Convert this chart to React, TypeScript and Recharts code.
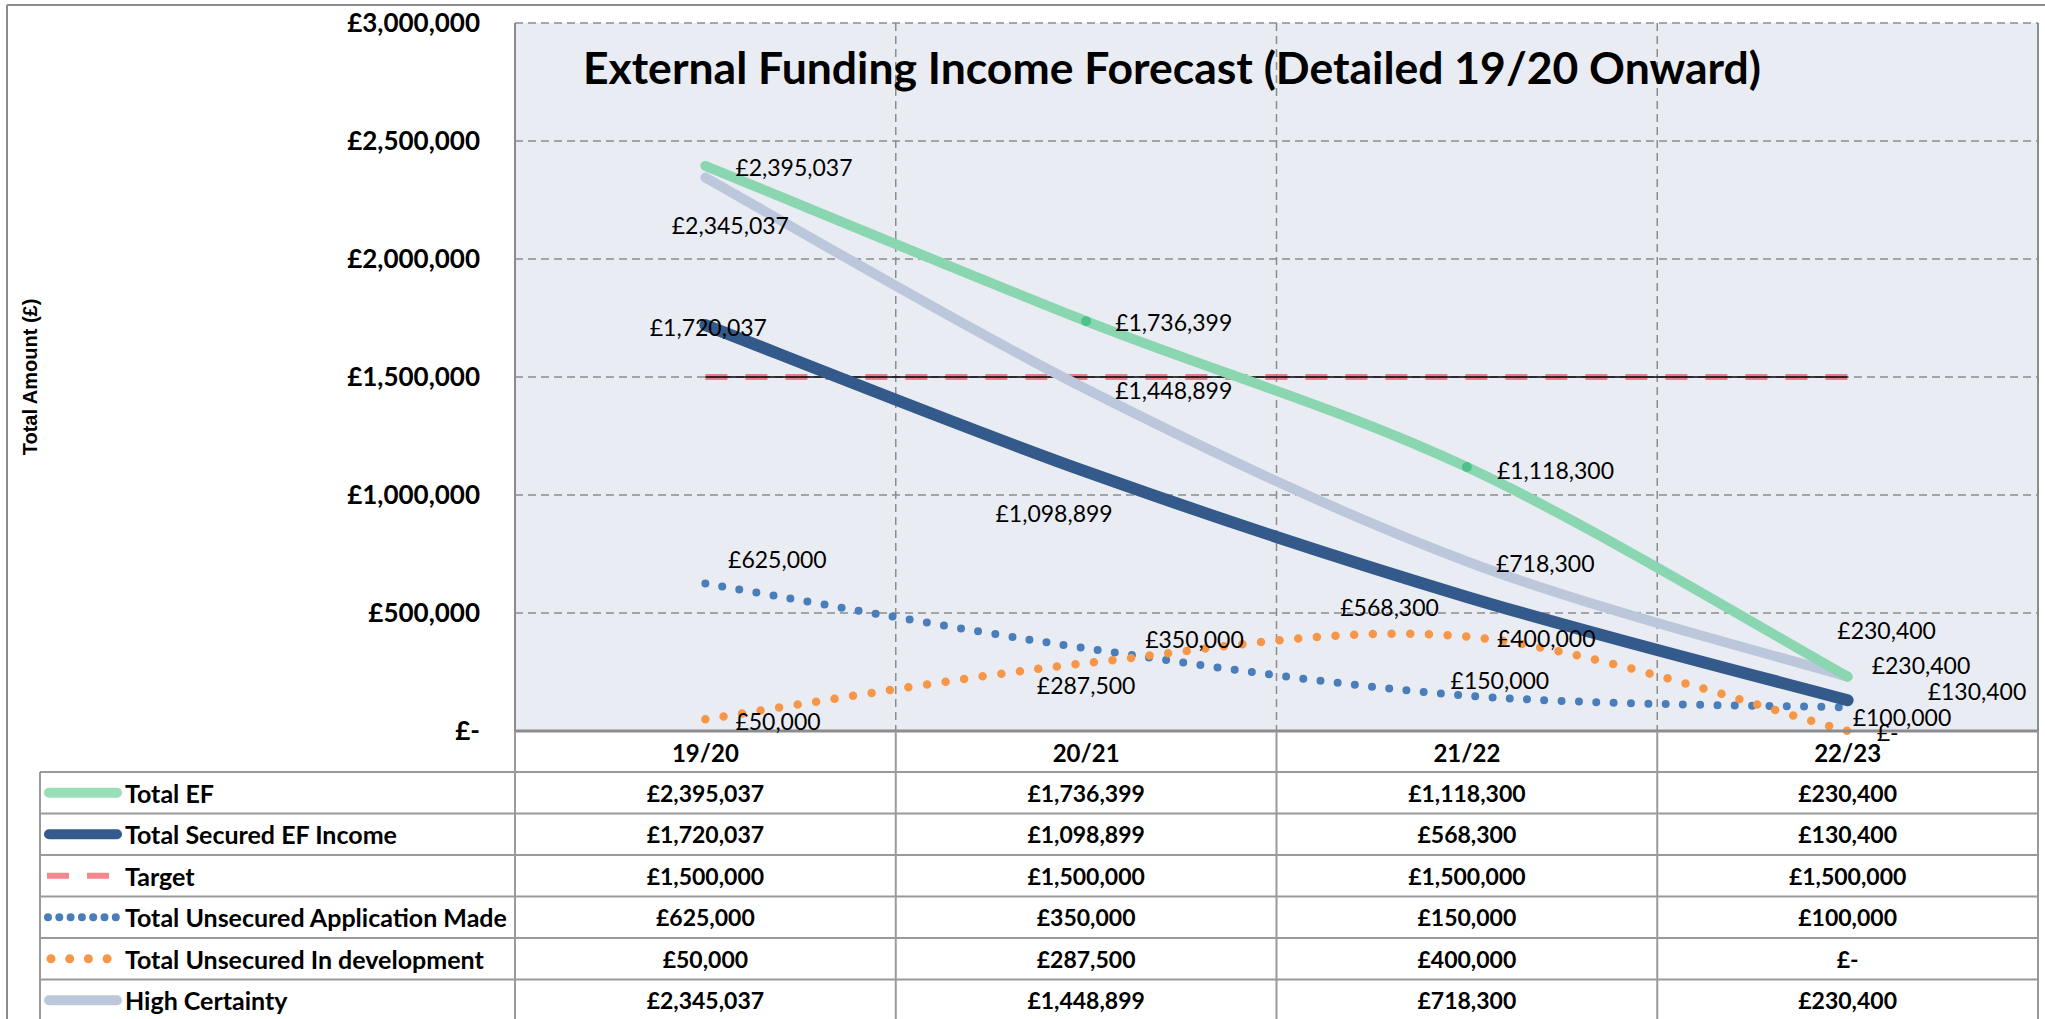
import React from "react"
import { LineChart, Line, XAxis, YAxis, CartesianGrid, LabelList } from "recharts"

// ---- data ----
const categories = ["19/20", "20/21", "21/22", "22/23"]
const totalEF = [2395037, 1736399, 1118300, 230400]
const totalSecured = [1720037, 1098899, 568300, 130400]
const target = [1500000, 1500000, 1500000, 1500000]
const unsecuredApplied = [625000, 350000, 150000, 100000]
const unsecuredDevelopment = [50000, 287500, 400000, 0]
const highCertainty = [2345037, 1448899, 718300, 230400]
const yTicks = [0, 500000, 1000000, 1500000, 2000000, 2500000, 3000000]

const data = categories.map((cat, i) => ({
  cat,
  ef: totalEF[i],
  secured: totalSecured[i],
  target: target[i],
  applied: unsecuredApplied[i],
  dev: unsecuredDevelopment[i],
  high: highCertainty[i],
}))

// ---- layout ----
const W = 2045
const H = 1019
const PLOT_L = 515
const PLOT_R = 2038
const PLOT_T = 23
const PLOT_B = 731
const HEADER_H = 41
const ROW_H = 41.5
const TABLE_L = 40
const BAND = (PLOT_R - PLOT_L) / categories.length
const FONT = "Lato, 'Open Sans', sans-serif"

const fmt = (v: number) => (v === 0 ? "£-" : "£" + v.toLocaleString("en-GB"))

// Excel-style smoothed line (uniform Catmull-Rom as cubic Bezier)
function excelSmooth(context: any) {
  let pts: number[][] = []
  return {
    areaStart() {},
    areaEnd() {},
    lineStart() {
      pts = []
    },
    point(x: number, y: number) {
      pts.push([+x, +y])
    },
    lineEnd() {
      if (!pts.length) return
      context.moveTo(pts[0][0], pts[0][1])
      for (let i = 0; i < pts.length - 1; i++) {
        const p0 = pts[i - 1] || pts[i]
        const p1 = pts[i]
        const p2 = pts[i + 1]
        const p3 = pts[i + 2] || p2
        context.bezierCurveTo(
          p1[0] + (p2[0] - p0[0]) / 6,
          p1[1] + (p2[1] - p0[1]) / 6,
          p2[0] - (p3[0] - p1[0]) / 6,
          p2[1] - (p3[1] - p1[1]) / 6,
          p2[0],
          p2[1]
        )
      }
    },
  }
}

// label placement relative to each point: [dx, dy, anchor]
type Pos = [number, number, "start" | "middle" | "end"]
const labelPos: Record<string, Pos[]> = {
  ef: [[30, 1, "start"], [29, 1, "start"], [30, 3, "start"], [39, -47, "middle"]],
  secured: [[3, 2, "middle"], [-32, 41, "middle"], [-28, 10, "end"], [80, -9, "start"]],
  high: [[25, 47, "middle"], [29, 1, "start"], [29, 2, "start"], [24, -12, "start"]],
  applied: [[72, -25, "middle"], [59, -9, "start"], [33, -16, "middle"], [5, 10, "start"]],
  dev: [[30, 2, "start"], [0, 22, "middle"], [30, 1, "start"], [29, 1, "start"]],
}

const makeLabel = (key: string) => (props: any) => {
  const vb = props.viewBox || {}
  const px = props.x ?? vb.x
  const py = props.y ?? vb.y
  const [dx, dy, anchor] = labelPos[key][props.index] || [0, 0, "middle"]
  return (
    <text
      x={px + dx}
      y={py + dy}
      textAnchor={anchor}
      dominantBaseline="central"
      fontSize={23}
      fontFamily={FONT}
      fill="#000"
    >
      {fmt(props.value)}
    </text>
  )
}

const series = [
  { key: "ef", name: "Total EF", values: totalEF, legend: "#98deb6", kind: "solid" },
  { key: "secured", name: "Total Secured EF Income", values: totalSecured, legend: "#355a8c", kind: "solid" },
  { key: "target", name: "Target", values: target, legend: "#f4878b", kind: "dash" },
  { key: "applied", name: "Total Unsecured Application Made", values: unsecuredApplied, legend: "#4a7ebb", kind: "dotsSmall" },
  { key: "dev", name: "Total Unsecured In development", values: unsecuredDevelopment, legend: "#f79646", kind: "dots" },
  { key: "high", name: "High Certainty", values: highCertainty, legend: "#bdc7dc", kind: "solid" },
]

function LegendKey({ kind, color, y }: { kind: string; color: string; y: number }) {
  if (kind === "solid")
    return <line x1={49} x2={117} y1={y} y2={y} stroke={color} strokeWidth={10} strokeLinecap="round" />
  if (kind === "dash")
    return <line x1={47} x2={110} y1={y} y2={y} stroke={color} strokeWidth={6} strokeDasharray="22 18" />
  if (kind === "dotsSmall")
    return (
      <line x1={48} x2={116} y1={y} y2={y} stroke={color} strokeWidth={8} strokeDasharray="0 11.3" strokeLinecap="round" />
    )
  return <line x1={51} x2={108} y1={y} y2={y} stroke={color} strokeWidth={9} strokeDasharray="0 18.7" strokeLinecap="round" />
}

function Overlay() {
  const tableTop = PLOT_B + HEADER_H
  const colEdges = categories.map((_, i) => PLOT_L + i * BAND).concat(PLOT_R)
  const rowLines = series.map((_, i) => tableTop + i * ROW_H).concat(tableTop + series.length * ROW_H)
  const gray = "#9a9a9a"
  return (
    <svg width={W} height={H} style={{ position: "absolute", left: 0, top: 0, pointerEvents: "none" }}>
      {/* outer border */}
      <line x1={7} x2={7} y1={5} y2={H} stroke="#8c8c8c" strokeWidth={2} />
      <line x1={7} x2={W} y1={5} y2={5} stroke="#8c8c8c" strokeWidth={2} />
      {/* plot right border */}
      <line x1={PLOT_R} x2={PLOT_R} y1={PLOT_T} y2={PLOT_B} stroke="#8c8c8c" strokeWidth={2} />
      {/* title */}
      <text x={1172} y={66} textAnchor="middle" dominantBaseline="central" fontSize={44.5} fontWeight={700} fontFamily={FONT} fill="#000">
        External Funding Income Forecast (Detailed 19/20 Onward)
      </text>
      {/* y axis title */}
      <text
        x={30}
        y={377}
        transform="rotate(-90 30 377)"
        textAnchor="middle"
        dominantBaseline="central"
        fontSize={20}
        fontWeight={700}
        fontFamily="'Liberation Sans', Arial, sans-serif"
        fill="#000"
      >
        Total Amount (£)
      </text>
      {/* table grid */}
      {rowLines.map((y, i) => (
        <line key={"r" + i} x1={TABLE_L} x2={PLOT_R} y1={y} y2={y} stroke={gray} strokeWidth={2} />
      ))}
      <line x1={TABLE_L} x2={TABLE_L} y1={tableTop} y2={H} stroke={gray} strokeWidth={2} />
      {colEdges.map((x, i) => (
        <line key={"c" + i} x1={x} x2={x} y1={PLOT_B} y2={H} stroke={gray} strokeWidth={2} />
      ))}
      {/* rows */}
      {series.map((s, r) => {
        const cy = tableTop + r * ROW_H + ROW_H / 2
        return (
          <g key={s.key}>
            <LegendKey kind={s.kind} color={s.legend} y={cy} />
            <text x={125} y={cy} dominantBaseline="central" fontSize={25} fontWeight={700} fontFamily={FONT} fill="#000">
              {s.name}
            </text>
            {s.values.map((v, c) => (
              <text
                key={c}
                x={PLOT_L + c * BAND + BAND / 2}
                y={cy}
                textAnchor="middle"
                dominantBaseline="central"
                fontSize={23}
                fontWeight={700}
                fontFamily={FONT}
                fill="#000"
              >
                {fmt(v)}
              </text>
            ))}
          </g>
        )
      })}
    </svg>
  )
}

const greenDot = (p: any) =>
  p.index === 1 || p.index === 2 ? (
    <circle key={"gd" + p.index} cx={p.cx} cy={p.cy} r={5} fill="#4cc38a" />
  ) : (
    <g key={"gd" + p.index} />
  )

export default function App() {
  return (
    <div style={{ position: "fixed", left: 0, top: 0, width: W, height: H, background: "#fff", overflow: "hidden" }}>
      <LineChart
        width={W}
        height={H}
        data={data}
        margin={{ top: PLOT_T, right: W - PLOT_R, bottom: H - PLOT_B - HEADER_H, left: 0 }}
      >
        <CartesianGrid
          fill="#e9edf3"
          stroke="#8c8c8c"
          strokeWidth={1.5}
          strokeDasharray="8 5"
          verticalCoordinatesGenerator={({ offset }: any) =>
            categories.slice(1).map((_, i) => offset.left + ((i + 1) * offset.width) / categories.length)
          }
        />
        <XAxis
          dataKey="cat"
          padding={{ left: BAND / 2, right: BAND / 2 }}
          height={HEADER_H}
          tickSize={0}
          tickMargin={0}
          axisLine={{ stroke: "#8c8c8c", strokeWidth: 3 }}
          tick={(p: any) => (
            <text
              x={p.x}
              y={p.y + 21}
              textAnchor="middle"
              dominantBaseline="central"
              fontSize={24}
              fontWeight={700}
              fontFamily={FONT}
              fill="#000"
            >
              {p.payload.value}
            </text>
          )}
        />
        <YAxis
          width={PLOT_L}
          domain={[0, 3000000]}
          ticks={yTicks}
          tickFormatter={fmt}
          tickSize={0}
          tickMargin={35}
          axisLine={{ stroke: "#8c8c8c", strokeWidth: 2 }}
          tick={{ fontSize: 26, fontWeight: 700, fill: "#000", fontFamily: FONT }}
          interval={0}
        />
        <Line
          dataKey="target"
          type="linear"
          stroke="#e4646e"
          strokeOpacity={0.8}
          strokeWidth={6}
          strokeDasharray="22 18"
          dot={false}
          activeDot={false}
          isAnimationActive={false}
        />
        <Line dataKey="target" type="linear" stroke="#000" strokeWidth={1.5} dot={false} activeDot={false} isAnimationActive={false} />
        <Line
          dataKey="applied"
          type={excelSmooth as any}
          stroke="#4a7ebb"
          strokeWidth={8}
          strokeDasharray="0 17.3"
          strokeLinecap="round"
          dot={false}
          activeDot={false}
          isAnimationActive={false}
        >
          <LabelList dataKey="applied" content={makeLabel("applied")} />
        </Line>
        <Line
          dataKey="dev"
          type={excelSmooth as any}
          stroke="#f79646"
          strokeWidth={8.5}
          strokeDasharray="0 18.7"
          strokeLinecap="round"
          dot={false}
          activeDot={false}
          isAnimationActive={false}
        >
          <LabelList dataKey="dev" content={makeLabel("dev")} />
        </Line>
        <Line
          dataKey="high"
          type={excelSmooth as any}
          stroke="#bdc7dc"
          strokeWidth={10}
          strokeLinecap="round"
          dot={false}
          activeDot={false}
          isAnimationActive={false}
        >
          <LabelList dataKey="high" content={makeLabel("high")} />
        </Line>
        <Line
          dataKey="secured"
          type={excelSmooth as any}
          stroke="#335a8a"
          strokeWidth={12}
          strokeLinecap="round"
          dot={false}
          activeDot={false}
          isAnimationActive={false}
        >
          <LabelList dataKey="secured" content={makeLabel("secured")} />
        </Line>
        <Line
          dataKey="ef"
          type={excelSmooth as any}
          stroke="#8ad6b1"
          strokeWidth={10}
          strokeLinecap="round"
          dot={greenDot}
          activeDot={false}
          isAnimationActive={false}
        >
          <LabelList dataKey="ef" content={makeLabel("ef")} />
        </Line>
      </LineChart>
      <Overlay />
    </div>
  )
}
